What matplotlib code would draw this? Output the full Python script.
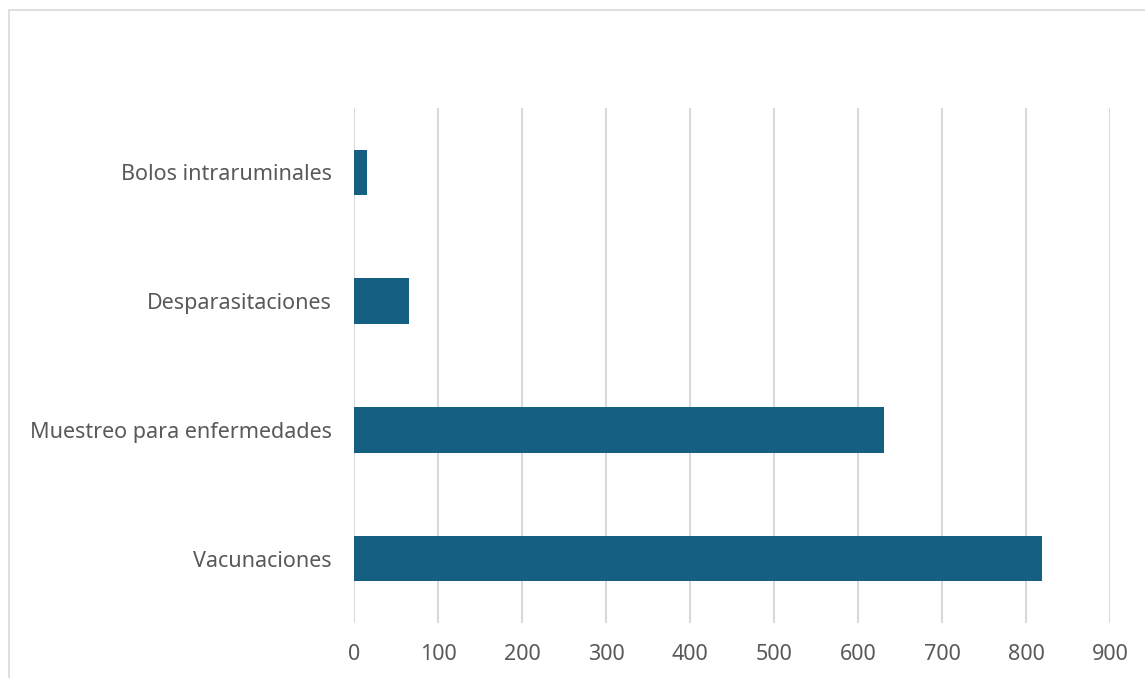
import matplotlib
matplotlib.use("Agg")
import matplotlib.pyplot as plt
from matplotlib.patches import Rectangle

# categories listed bottom to top
categories = ["Vacunaciones", "Muestreo para enfermedades", "Desparasitaciones", "Bolos intraruminales"]
values = [819, 631, 65, 16]
xticks = [0, 100, 200, 300, 400, 500, 600, 700, 800, 900]

bar_color = "#156082"
grid_color = "#D9D9D9"
text_color = "#595959"

plt.rcParams["font.family"] = ["Noto Sans", "DejaVu Sans"]

W, H = 1145, 678
fig = plt.figure(figsize=(W / 100, H / 100), dpi=100)
fig.patch.set_facecolor("white")

# chart frame, runs off the right and bottom edges
fig.patches.append(Rectangle((9 / W, -0.1), 1.2, 1 - 10 / H + 0.1,
                             transform=fig.transFigure, fill=False,
                             edgecolor=grid_color, linewidth=1.2))

ax = fig.add_axes([354 / W, 1 - 623 / H, (1110 - 354) / W, (623 - 108) / H])
ypos = range(len(categories))
ax.barh(ypos, values, height=0.354, color=bar_color, zorder=3)

ax.set_xlim(0, 900)
ax.set_ylim(-0.5, len(categories) - 0.5)
ax.set_xticks(xticks)
ax.set_yticks(list(ypos))
ax.set_yticklabels(categories)

ax.grid(axis="x", color=grid_color, linewidth=1.5, zorder=0)
for s in ax.spines.values():
    s.set_visible(False)
ax.tick_params(axis="both", length=0, labelsize=15.5, colors=text_color)
ax.tick_params(axis="x", pad=15)
ax.tick_params(axis="y", pad=16)

fig.savefig("out.png", dpi=100)
